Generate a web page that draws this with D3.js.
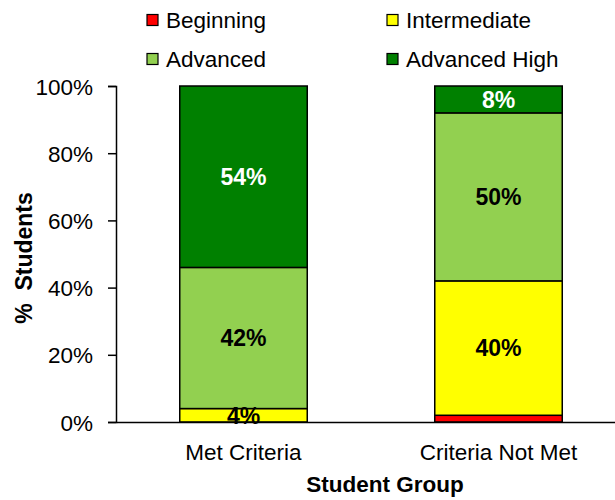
<!DOCTYPE html>
<html><head><meta charset="utf-8">
<script src="https://cdn.jsdelivr.net/npm/d3@7"></script>
<style>body{margin:0;background:#fff}svg{display:block;font-family:"Liberation Sans",Arial,sans-serif}</style>
</head><body><svg id="c" width="615" height="500"></svg>
<script>
const categories = ["Met Criteria", "Criteria Not Met"];
const seriesNames = ["Beginning", "Intermediate", "Advanced", "Advanced High"];
const seriesColors = ["#ff0000", "#ffff00", "#92d050", "#008000"];
const labelColors = ["#000", "#000", "#000", "#fff"];
const beginning = [0, 2];
const intermediate = [4, 40];
const advanced = [42, 50];
const advancedHigh = [54, 8];
const yTicks = [0, 20, 40, 60, 80, 100];
const seriesValues = [beginning, intermediate, advanced, advancedHigh];
const showLabel = [[false, false], [true, true], [true, true], [true, true]];

const svg = d3.select("#c");
const x = d3.scaleBand().domain(categories).range([116, 626]).paddingInner(0.5).paddingOuter(0.25);
const y = d3.scaleLinear().domain([0, 100]).range([422, 86]);

const rows = categories.map((c, i) => {
  const o = {cat: c};
  seriesNames.forEach((s, j) => o[s] = seriesValues[j][i]);
  return o;
});
const stack = d3.stack().keys(seriesNames)(rows);

stack.forEach((layer, j) => {
  svg.append("g").selectAll("rect").data(layer).join("rect")
    .attr("x", d => x(d.data.cat))
    .attr("width", x.bandwidth())
    .attr("y", d => y(d[1]))
    .attr("height", d => y(d[0]) - y(d[1]))
    .attr("fill", seriesColors[j])
    .attr("stroke", "#000").attr("stroke-width", 1.5);
});
stack.forEach((layer, j) => {
  svg.append("g").selectAll("text").data(layer.filter((d, i) => showLabel[j][i])).join("text")
    .attr("x", d => x(d.data.cat) + x.bandwidth() / 2)
    .attr("y", d => (y(d[0]) + y(d[1])) / 2)
    .attr("dy", "0.36em")
    .attr("text-anchor", "middle")
    .attr("font-weight", "bold").attr("font-size", 23)
    .attr("fill", labelColors[j])
    .text(d => Math.round(d[1] - d[0]) + "%");
});

// y axis
const ya = svg.append("g").attr("transform", "translate(116,0)")
  .call(d3.axisLeft(y).tickValues(yTicks).tickSize(8).tickFormat(d => d + "%"));
ya.select(".domain").attr("stroke", "#000").attr("stroke-width", 1.5);
ya.selectAll(".tick line").attr("stroke", "#000").attr("stroke-width", 1.5);
ya.selectAll(".tick text").attr("font-size", 22.5).attr("font-family", "Liberation Sans, Arial, sans-serif").attr("fill", "#000").attr("x", -23).attr("dy", "0.36em");

// x axis
const xa = svg.append("g").attr("transform", "translate(0,422)")
  .call(d3.axisBottom(x).tickSize(0).tickSizeOuter(0));
xa.select(".domain").attr("stroke", "#000").attr("stroke-width", 1.5);
xa.selectAll(".tick text").attr("font-size", 22.5).attr("font-family", "Liberation Sans, Arial, sans-serif").attr("fill", "#000").attr("y", 38).attr("dy", "0");

svg.append("text").attr("x", 385).attr("y", 492).attr("text-anchor", "middle")
  .attr("font-weight", "bold").attr("font-size", 22.5).text("Student Group");
svg.append("text").attr("transform", "translate(32,258) rotate(-90)").attr("text-anchor", "middle")
  .attr("font-weight", "bold").attr("font-size", 23).attr("xml:space", "preserve").text("%  Students");

// legend
const legPos = [[147, 20], [387, 20], [147, 59], [387, 59]];
const leg = svg.append("g").selectAll("g").data(seriesNames).join("g")
  .attr("transform", (d, i) => `translate(${legPos[i][0]},${legPos[i][1]})`);
leg.append("rect").attr("x", 0).attr("y", -5.5).attr("width", 11).attr("height", 11)
  .attr("fill", (d, i) => seriesColors[i]).attr("stroke", "#000").attr("stroke-width", 1.2);
leg.append("text").attr("x", 19).attr("y", 7.5).attr("font-size", 22.5).text(d => d);
</script></body></html>
